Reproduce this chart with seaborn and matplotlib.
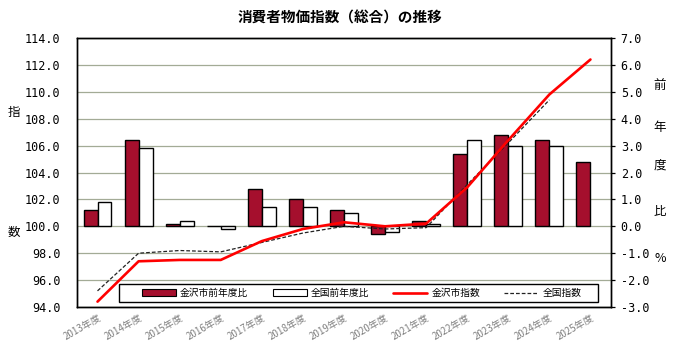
"""
消費者物価指数（総合）の推移 - 金沢市と全国の比較チャート
"""
import numpy as np
import pandas as pd
import matplotlib
matplotlib.use("Agg")
import matplotlib.pyplot as plt
import seaborn as sns
from matplotlib.patches import Patch, Rectangle
from matplotlib.lines import Line2D

# データ
years = ['2013年度', '2014年度', '2015年度', '2016年度', '2017年度', '2018年度', '2019年度',
         '2020年度', '2021年度', '2022年度', '2023年度', '2024年度', '2025年度']
kanazawa_yoy = [0.6, 3.2, 0.1, 0.0, 1.4, 1.0, 0.6, -0.3, 0.2, 2.7, 3.4, 3.2, 2.4]
national_yoy = [0.9, 2.9, 0.2, -0.1, 0.7, 0.7, 0.5, -0.2, 0.1, 3.2, 3.0, 3.0, np.nan]
kanazawa_idx = [94.4, 97.4, 97.5, 97.5, 98.9, 99.8, 100.3, 100.0, 100.2, 102.9, 106.4, 109.8, 112.4]
national_idx = [95.2, 98.0, 98.2, 98.1, 98.8, 99.5, 100.0, 99.8, 99.9, 103.1, 106.2, 109.4, np.nan]

left_ticks = np.arange(94, 114.1, 2)
right_ticks = np.arange(-3, 7.1, 1)

RED_BAR = '#a50f2d'
GRID = '#a3ab96'
MONO = 'DejaVu Sans Mono'

sns.set_style('white')
plt.rcParams['font.family'] = ['Noto Sans CJK JP', 'DejaVu Sans']
plt.rcParams['text.color'] = 'black'
plt.rcParams['xtick.color'] = 'black'
plt.rcParams['ytick.color'] = 'black'

bars = pd.DataFrame({
    '年度': years * 2,
    '前年度比': kanazawa_yoy + national_yoy,
    '系列': ['金沢市前年度比'] * len(years) + ['全国前年度比'] * len(years),
})
lines = pd.DataFrame({
    '年度': years * 2,
    '指数': kanazawa_idx + national_idx,
    '系列': ['金沢市指数'] * len(years) + ['全国指数'] * len(years),
})

fig = plt.figure(figsize=(6.77, 3.57), dpi=100)
ax = fig.add_axes([0.1137, 0.140, 0.7888, 0.7536])   # 指数（左軸）
ax2 = ax.twinx()                                      # 前年度比（右軸）

# 棒グラフ（右軸）
sns.barplot(data=bars, x='年度', y='前年度比', hue='系列', ax=ax2,
            palette={'金沢市前年度比': RED_BAR, '全国前年度比': 'white'},
            width=0.68, gap=0, edgecolor='black', linewidth=1.0,
            legend=False, errorbar=None, saturation=1)
ax2.set_ylim(-3, 7)
ax2.set_yticks(right_ticks)
ax2.set_yticklabels([f'{v:.1f}' for v in right_ticks], family=MONO, fontsize=8.5)
ax2.yaxis.grid(True, color=GRID, linewidth=0.9)
ax2.set_axisbelow(True)
ax2.set_ylabel('')
ax2.set_xlabel('')

# 折れ線（左軸）
k = lines[lines['系列'] == '金沢市指数']
n = lines[lines['系列'] == '全国指数']
sns.lineplot(data=n, x='年度', y='指数', ax=ax, color='#222222', linewidth=0.9,
             linestyle=(0, (3, 1.6)), sort=False, legend=False)
sns.lineplot(data=k, x='年度', y='指数', ax=ax, color='#ff0000', linewidth=1.9,
             sort=False, legend=False)
ax.set_ylim(94, 114)
ax.set_yticks(left_ticks)
ax.set_yticklabels([f'{v:.1f}' for v in left_ticks], family=MONO, fontsize=8.5)
ax.set_ylabel('')
ax.set_xlabel('')
ax.set_xlim(-0.5, len(years) - 0.5)

# 折れ線を棒の上に
ax.set_zorder(ax2.get_zorder() + 1)
ax.patch.set_visible(False)

# 目盛り
ax.set_xticks(range(len(years)))
ax.set_xticklabels(years, rotation=30, ha='right', rotation_mode='anchor',
                   color='#808080', fontsize=7)
ax.set_xticks(np.arange(0.5, len(years) - 0.5), minor=True)
ax.tick_params(axis='x', which='major', length=0, pad=4)
ax.tick_params(axis='x', which='minor', length=4, width=0.9, color='black', direction='out')
ax.tick_params(axis='y', length=0, pad=12)
ax2.tick_params(axis='y', length=3, width=0.9, pad=4, direction='out')
ax2.tick_params(axis='x', length=0, labelbottom=False)
for a in (ax, ax2):
    for s in a.spines.values():
        s.set_color('black')
        s.set_linewidth(1.0)
        s.set_visible(True)

# 凡例（枠は別に描く）
box = Rectangle((0.079, 0.019), 0.897, 0.067, transform=ax.transAxes,
                facecolor='white', edgecolor='black', linewidth=1.0, zorder=4)
ax.add_patch(box)
handles = [
    Patch(facecolor=RED_BAR, edgecolor='black', linewidth=0.8),
    Patch(facecolor='white', edgecolor='black', linewidth=0.8),
    Line2D([], [], color='#ff0000', linewidth=1.9),
    Line2D([], [], color='#222222', linewidth=0.9, linestyle=(0, (3, 1.6))),
]
labels = ['金沢市前年度比', '全国前年度比', '金沢市指数', '全国指数']
leg = ax.legend(handles, labels, ncol=4, loc='center left',
                bbox_to_anchor=((142 - 77) / 533, 0.0525), fontsize=7,
                frameon=False, borderpad=0, handlelength=3.5,
                handleheight=0.6, handletextpad=0.4, columnspacing=2.5,
                borderaxespad=0)
leg.set_zorder(5)

# タイトル・軸ラベル
fig.text(0.502, 0.95, '消費者物価指数（総合）の推移', ha='center', va='center',
         fontsize=10.5, fontweight='bold', color='black')
fig.text(0.021, 1 - 112 / 357, '指', ha='center', va='center', fontsize=9)
fig.text(0.021, 1 - 232 / 357, '数', ha='center', va='center', fontsize=9)
for ch, y in zip(['前', '年', '度', '比', '%'], [85, 127, 165, 211, 258]):
    fig.text(660 / 677, 1 - y / 357, ch, ha='center', va='center', fontsize=9)

fig.savefig('out.png', dpi=100)
